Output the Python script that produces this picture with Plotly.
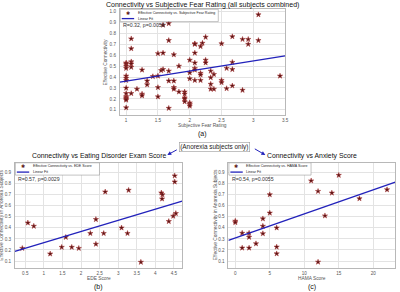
import numpy as np
import plotly.graph_objects as go

W, H = 400, 292

# ---------------- data ----------------
# (a) all subjects: subjective fear rating vs effective connectivity
fear_rating = (
    [1.0] * 14 + [1.08] * 6 + [1.17] + [1.25] * 3 + [1.33] * 2 + [1.42] + [1.5] * 4 + [1.55] + [1.58] * 3 +
    [1.67] * 5 + [1.75] * 4 + [1.83] * 2 + [1.92] * 5 + [2.0] * 6 + [2.08] * 7 + [2.17] * 4 + [2.2] +
    [2.25] * 3 + [2.33] * 4 + [2.38] * 2 + [2.5] * 3 + [2.58] * 2 + [2.67] * 4 + [2.83] * 2 + [2.92] * 2 +
    [3.08] * 2 + [3.42]
)
connectivity_all = [
    0.53, 0.52, 0.50, 0.48, 0.41, 0.39, 0.37, 0.30, 0.25, 0.22, 0.21, 0.20, 0.19, 0.12,
    0.75, 0.66, 0.54, 0.52, 0.49, 0.25,
    0.29,
    0.465, 0.245, 0.23,
    0.365, 0.33,
    0.405,
    0.615, 0.41, 0.305, 0.22,
    0.46,
    0.62, 0.47, 0.875,
    0.89, 0.735, 0.455, 0.365, 0.115,
    0.605, 0.365, 0.305, 0.29,
    0.50, 0.265,
    0.265, 0.245, 0.21, 0.20, 0.175,
    0.555, 0.44, 0.385, 0.165, 0.15, 0.135,
    0.705, 0.70, 0.62, 0.53, 0.48, 0.465, 0.37,
    0.68, 0.435, 0.42, 0.37,
    0.71,
    0.765, 0.555, 0.53,
    0.455, 0.395, 0.335, 0.29,
    0.425, 0.29,
    0.705, 0.37, 0.35,
    0.48, 0.295,
    0.77, 0.535, 0.47, 0.32,
    0.745, 0.28,
    0.745, 0.70,
    0.97, 0.735,
    0.41,
]

# (b) anorexia subjects: EDE score
ede_score = [0.42, 0.57, 0.73, 1.17, 1.48, 1.59, 1.75, 1.94, 2.25, 2.40, 2.40, 2.61, 2.65,
             3.09, 3.25, 3.28, 3.61, 4.16, 4.19, 4.18, 4.36, 4.48, 4.52, 4.52, 4.55]
connectivity_ede = [0.215, 0.445, 0.415, 0.165, 0.225, 0.315, 0.225, 0.215, 0.35, 0.476, 0.253, 0.35, 0.725,
                    0.40, 0.35, 0.74, 0.09, 0.716, 0.700, 0.662, 0.458, 0.506, 0.87, 0.815, 0.53]

# (c) anorexia subjects: HAMA score
hama_score = [0, 0, 1, 1, 2, 2, 2, 3, 4, 4, 4, 5, 5, 6, 6, 6, 11, 12, 12, 13, 14, 15, 18, 22]
connectivity_hama = [0.461, 0.448, 0.352, 0.218, 0.352, 0.315, 0.218, 0.257, 0.482, 0.415, 0.348, 0.70,
                     0.534, 0.40, 0.227, 0.166, 0.825, 0.73, 0.091, 0.509, 0.715, 0.875, 0.664, 0.745]

stats_text = ["R=0.32, p=0.0056", "R=0.57, p=0.0029", "R=0.54, p=0.0055"]
titles = ["Connectivity vs Subjective Fear Rating (all subjects combined)",
          "Connectivity vs Eating Disorder Exam Score",
          "Connectivity vs Anxiety Score"]
xlabels = ["Subjective Fear Rating", "EDE Score", "HAMA Score"]
ylabels = ["Effective Connectivity", "Effective Connectivity in Anorexia Subjects",
           "Effective Connectivity in Anorexia Subjects"]
legend_names = ["Effective Connectivity vs. Subjective Fear Rating",
                "Effective Connectivity vs. EDE Score",
                "Effective Connectivity vs. HAMA Score"]
panel_tags = ["(a)", "(b)", "(c)"]
group_note = "(Anorexia subjects only)"

# ---------------- layout geometry (pixels) ----------------
panels = [
    dict(x0=121, x1=288, y0=9, y1=115, xr=[0.9, 3.5], yr=[0.053, 1.022], dx=0.5, x=fear_rating, y=connectivity_all),
    dict(x0=15, x1=184, y0=162.5, y1=268, xr=[0.22, 4.72], yr=[0.037, 0.99], dx=0.5, x=ede_score, y=connectivity_ede),
    dict(x0=230.7, x1=399.3, y0=162.5, y1=268, xr=[-1, 23.2], yr=[0.037, 0.99], dx=5, x=hama_score, y=connectivity_hama),
]

def px(x):
    return x / W

def py(y):
    return 1 - y / H

FONT = "Liberation Sans"
MARK_COLOR = "#5a1414"
MARK_LINE = "#a83636"
FIT_COLOR = "#2222bb"
GRID = "#e3e3e3"
FRAME = "#b8b8b8"
TICKC = "#555555"

fig = go.Figure()
annotations = []
shapes = []

for i, p in enumerate(panels):
    sfx = "" if i == 0 else str(i + 1)
    xa, ya = "x" + sfx, "y" + sfx
    xs = np.array(p["x"], dtype=float)
    ys = np.array(p["y"], dtype=float)
    fig.add_trace(go.Scatter(
        x=xs, y=ys, mode="markers", xaxis=xa, yaxis=ya, showlegend=False,
        marker=dict(symbol="star", size=4, color=MARK_COLOR, line=dict(color=MARK_LINE, width=0.5)),
    ))
    slope, icpt = np.polyfit(xs, ys, 1)
    fx = np.array(p["xr"])
    fig.add_trace(go.Scatter(
        x=fx, y=slope * fx + icpt, mode="lines", xaxis=xa, yaxis=ya, showlegend=False,
        line=dict(color=FIT_COLOR, width=1.3),
    ))
    axis_common = dict(showgrid=True, gridcolor=GRID, gridwidth=0.6, zeroline=False,
                       showline=True, linecolor=FRAME, linewidth=0.8, mirror=True, ticks="",
                       tickfont=dict(family=FONT, size=4.6, color=TICKC))
    fig.update_layout(**{
        "xaxis" + sfx: dict(domain=[px(p["x0"]), px(p["x1"])], range=p["xr"], dtick=p["dx"],
                            tick0=0, anchor=ya, ticklabelstandoff=1, **axis_common),
        "yaxis" + sfx: dict(domain=[py(p["y1"]), py(p["y0"])], range=p["yr"], dtick=0.1, tick0=0,
                            anchor=xa, tickformat=".1f", ticklabelstandoff=2, **axis_common),
    })
    cx = (p["x0"] + p["x1"]) / 2
    ty = 5 if i == 0 else 155.5
    annotations.append(dict(x=px(cx), y=py(ty), xref="paper", yref="paper", text=titles[i],
                            showarrow=False, xanchor="center", yanchor="middle",
                            font=dict(family=FONT, size=7.0 if i == 0 else 6.85, color="#111111")))
    annotations.append(dict(x=px(cx), y=py(p["y1"] + 10), xref="paper", yref="paper", text=xlabels[i],
                            showarrow=False, xanchor="center", yanchor="middle",
                            font=dict(family=FONT, size=4.8, color=TICKC)))
    annotations.append(dict(x=px(cx), y=py(p["y1"] + 18.5), xref="paper", yref="paper", text=panel_tags[i],
                            showarrow=False, xanchor="center", yanchor="middle",
                            font=dict(family=FONT, size=7, color="#111111")))
    annotations.append(dict(x=px(p["x0"] - 13.5), y=py((p["y0"] + p["y1"]) / 2), xref="paper", yref="paper",
                            text=ylabels[i], textangle=-90, showarrow=False,
                            xanchor="center", yanchor="middle",
                            font=dict(family=FONT, size=4.8, color=TICKC)))
    # legend box
    lw = [99, 85, 83][i]
    lh = 12.3
    lx0, ly0 = p["x0"] + 0.5, p["y0"] + 0.3
    shapes.append(dict(type="rect", xref="paper", yref="paper", x0=px(lx0), x1=px(lx0 + lw),
                       y0=py(ly0), y1=py(ly0 + lh), line=dict(color="#9a9a9a", width=0.6),
                       fillcolor="white", layer="above"))
    shapes.append(dict(type="line", xref="paper", yref="paper", x0=px(lx0 + 1.5), x1=px(lx0 + 14),
                       y0=py(ly0 + 9.3), y1=py(ly0 + 9.3), line=dict(color=FIT_COLOR, width=1.3),
                       layer="above"))
    annotations.append(dict(x=px(lx0 + 7.5), y=py(ly0 + 3.3), xref="paper", yref="paper", text="✱",
                            showarrow=False, xanchor="center", yanchor="middle",
                            font=dict(family="DejaVu Sans", size=5, color=MARK_COLOR)))
    annotations.append(dict(x=px(lx0 + 15.5), y=py(ly0 + 3.3), xref="paper", yref="paper",
                            text=legend_names[i], showarrow=False, xanchor="left", yanchor="middle",
                            font=dict(family=FONT, size=3.6, color="#222222")))
    annotations.append(dict(x=px(lx0 + 15.5), y=py(ly0 + 9.3), xref="paper", yref="paper",
                            text="Linear Fit", showarrow=False, xanchor="left", yanchor="middle",
                            font=dict(family=FONT, size=3.6, color="#222222")))
    annotations.append(dict(x=px(p["x0"] + 1.5), y=py(p["y0"] + 16.5), xref="paper", yref="paper",
                            text=stats_text[i], showarrow=False, xanchor="left", yanchor="middle",
                            font=dict(family=FONT, size=5.2, color="#333333")))

# group note with arrows
annotations.append(dict(x=px(217), y=py(147), xref="paper", yref="paper", text=group_note,
                        showarrow=False, xanchor="center", yanchor="middle",
                        font=dict(family=FONT, size=6.4, color="#222222"),
                        bordercolor="#9a9a9a", borderwidth=0.6, borderpad=0.6, bgcolor="white"))
annotations.append(dict(x=px(169), y=py(155), ax=11, ay=-6, xref="paper", yref="paper",
                        axref="pixel", ayref="pixel", text="", showarrow=True, arrowhead=2,
                        arrowsize=0.8, arrowwidth=1, arrowcolor="#2222bb"))
annotations.append(dict(x=px(268), y=py(155), ax=-12, ay=-7, xref="paper", yref="paper",
                        axref="pixel", ayref="pixel", text="", showarrow=True, arrowhead=2,
                        arrowsize=0.8, arrowwidth=1, arrowcolor="#2222bb"))

fig.update_layout(
    width=W, height=H, margin=dict(l=0, r=0, t=0, b=0),
    paper_bgcolor="white", plot_bgcolor="white",
    showlegend=False, annotations=annotations, shapes=shapes,
)

fig.write_html("out.html", config={"displayModeBar": False},
               post_script="document.body.style.margin='0';document.body.style.padding='0';")
